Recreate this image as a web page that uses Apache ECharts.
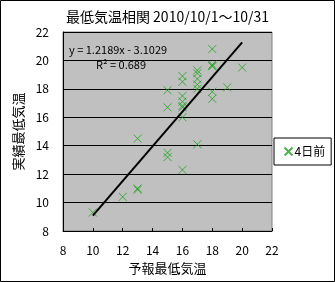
<!DOCTYPE html>
<html><head><meta charset="utf-8">
<script src="https://cdn.jsdelivr.net/npm/echarts@6/dist/echarts.min.js"></script>
<style>html,body{margin:0;padding:0;background:#fff}#c{width:335px;height:282px}</style>
</head><body><div id="c"></div>
<script>
const titleText = '最低気温相関 2010/10/1～10/31';
const xName = '予報最低気温';
const yName = '実績最低気温';
const seriesName = '4日前';
const forecast = [10,12,13,13,13,15,15,15,15,16,16,16,16,16,16,16,16,17,17,17,17,17,17,18,18,18,18,18,18,19,20];
const actual   = [9.3,10.4,14.5,11.0,10.9,17.9,16.7,13.5,13.2,18.9,18.5,17.5,17.1,16.8,16.7,16.0,12.3,19.3,19.1,18.7,18.3,18.0,14.1,20.8,19.7,19.6,19.6,17.8,17.3,18.1,19.5];
const trendSlope = [1.2189];
const trendIntercept = [-3.1029];
const trendRange = [10, 20];
const eqText = 'y = 1.2189x - 3.1029';
const r2Text = 'R² = 0.689';
const axisTicks = [8, 22, 2];

const pts = forecast.map((x, i) => [x, actual[i]]);
const trend = trendRange.map(x => [x, trendSlope[0] * x + trendIntercept[0]]);
const green = '#22a022';
const font = '"Noto Sans CJK JP", sans-serif';
const xSym = 'path://M0,0L10,10M10,0L0,10';

const chart = echarts.init(document.getElementById('c'), null, {renderer: 'canvas'});
chart.setOption({
  backgroundColor: '#fff',
  animation: false,
  textStyle: {fontFamily: font},
  title: {
    text: titleText, left: 'center', top: 10, padding: 0,
    textStyle: {fontSize: 14, fontWeight: 'normal', color: '#000', fontFamily: font}
  },
  grid: {left: 63, top: 32, right: 63, bottom: 51, show: true,
    backgroundColor: '#c0c0c0', borderColor: '#808080', borderWidth: 1},
  xAxis: {
    type: 'value', min: axisTicks[0], max: axisTicks[1], interval: axisTicks[2],
    name: xName, nameLocation: 'middle', nameGap: 31,
    nameTextStyle: {fontSize: 13, color: '#000', fontFamily: font},
    axisLine: {show: true, lineStyle: {color: '#000', width: 1}},
    axisTick: {show: true, inside: true, length: 3, lineStyle: {color: '#000'}},
    axisLabel: {fontSize: 12, color: '#000', margin: 13, fontFamily: font},
    splitLine: {show: false}
  },
  yAxis: {
    type: 'value', min: axisTicks[0], max: axisTicks[1], interval: axisTicks[2],
    name: yName, nameLocation: 'middle', nameGap: 29, nameRotate: 90,
    nameTextStyle: {fontSize: 13, color: '#000', fontFamily: font},
    axisLine: {show: true, lineStyle: {color: '#000', width: 1}},
    axisTick: {show: true, inside: true, length: 4, lineStyle: {color: '#000'}},
    axisLabel: {fontSize: 12, color: '#000', margin: 14, fontFamily: font},
    splitLine: {show: true, lineStyle: {color: '#000', width: 1}}
  },
  legend: {
    data: [{name: seriesName, icon: xSym}],
    left: 274, top: 138, width: 55, height: 27,
    padding: [7, 6, 7, 8],
    itemWidth: 8, itemHeight: 8, itemGap: 2,
    backgroundColor: '#fff', borderColor: '#000', borderWidth: 1, borderRadius: 0,
    textStyle: {fontSize: 12, color: '#000', fontFamily: font, padding: [0, 0, 0, -3]}
  },
  graphic: [
    {type: 'rect', shape: {x: 0.5, y: 0.5, width: 334, height: 281}, style: {fill: 'none', stroke: '#000', lineWidth: 1}, z: 100},
    {type: 'text', left: 69, top: 44, style: {text: eqText, fontSize: 11, fill: '#000', fontFamily: font}, z: 50},
    {type: 'text', left: 96, top: 59, style: {text: r2Text, fontSize: 11, fill: '#000', fontFamily: font}, z: 50}
  ],
  series: [
    {
      name: seriesName, type: 'scatter', data: pts, symbol: xSym, symbolSize: 8,
      itemStyle: {color: 'none', borderColor: green, borderWidth: 1}, z: 3
    },
    {
      name: 'trend', type: 'line', data: trend, showSymbol: false, symbol: 'none',
      lineStyle: {color: '#000', width: 2}, z: 4, silent: true
    }
  ]
});
</script></body></html>
